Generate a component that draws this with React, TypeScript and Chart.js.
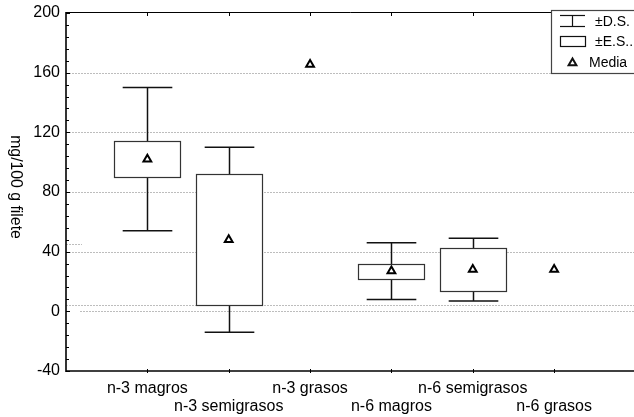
import React, { useEffect, useRef } from "react";
import { Chart, registerables } from "chart.js";

Chart.register(...registerables);

// ---- data ----
const categories = [
  "n-3 magros",
  "n-3 semigrasos",
  "n-3 grasos",
  "n-6 magros",
  "n-6 semigrasos",
  "n-6 grasos",
];
const means = [102, 48, 165.5, 27, 28, 28];
const seHalf: (number | null)[] = [12, 44, null, 5, 14.5, null];
const sdHalf: (number | null)[] = [48, 62, null, 19, 21, null];
const yTicks = [-40, 0, 40, 80, 120, 160, 200];
const extraDottedValues = [4.5];
const extraShortDottedValues = [45];
const legendLabels = ["±D.S.", "±E.S..", "Media"];
const yTitle = "mg/100 g filete";

const FONT = '"Liberation Sans", Arial, sans-serif';

function hline(ctx: CanvasRenderingContext2D, x1: number, x2: number, y: number) {
  ctx.beginPath();
  ctx.moveTo(x1, y);
  ctx.lineTo(x2, y);
  ctx.stroke();
}
function vline(ctx: CanvasRenderingContext2D, x: number, y1: number, y2: number) {
  ctx.beginPath();
  ctx.moveTo(x, y1);
  ctx.lineTo(x, y2);
  ctx.stroke();
}

const boxPlugin = {
  id: "boxWhisker",
  beforeDatasetsDraw(chart: any) {
    const { ctx, chartArea: a, scales } = chart;
    const x = scales.x;
    const y = scales.y;
    const step = x.getPixelForValue(2) - x.getPixelForValue(1);
    ctx.save();
    // dotted grid
    ctx.strokeStyle = "#bdbdbd";
    ctx.lineWidth = 1;
    ctx.setLineDash([2, 1]);
    yTicks.forEach((v) => {
      if (v <= y.min || v >= y.max) return;
      const py = Math.round(y.getPixelForValue(v)) + 0.5;
      hline(ctx, v === 0 ? a.left + 14 : a.left, a.right, py);
    });
    extraDottedValues.forEach((v) => {
      const py = Math.round(y.getPixelForValue(v)) + 0.5;
      hline(ctx, a.left, a.right, py);
    });
    extraShortDottedValues.forEach((v) => {
      const py = Math.round(y.getPixelForValue(v)) + 0.5;
      hline(ctx, a.left, a.left + 16, py);
    });
    ctx.setLineDash([]);

    categories.forEach((_, i) => {
      const m = means[i];
      const cx = Math.round(x.getPixelForValue(i + 1)) + 0.5;
      const sd = sdHalf[i];
      const se = seHalf[i];
      if (sd != null) {
        ctx.strokeStyle = "#111";
        ctx.lineWidth = 1.5;
        const top = y.getPixelForValue(m + sd);
        const bot = y.getPixelForValue(m - sd);
        vline(ctx, cx, top, bot);
        const hw = step * 0.305;
        hline(ctx, cx - hw, cx + hw, top);
        hline(ctx, cx - hw, cx + hw, bot);
      }
      if (se != null) {
        const top = Math.round(y.getPixelForValue(m + se)) + 0.5;
        const bot = Math.round(y.getPixelForValue(m - se)) + 0.5;
        const hw = Math.round(step * 0.4);
        ctx.fillStyle = "#ffffff";
        ctx.fillRect(cx - hw, top, hw * 2, bot - top);
        ctx.strokeStyle = "#333";
        ctx.lineWidth = 1.2;
        ctx.strokeRect(cx - hw, top, hw * 2, bot - top);
      }
    });
    ctx.restore();
  },
  afterDraw(chart: any) {
    const { ctx, chartArea: a, scales } = chart;
    const x = scales.x;
    const y = scales.y;
    ctx.save();
    ctx.strokeStyle = "#000";
    // frame
    ctx.lineWidth = 1;
    hline(ctx, a.left, a.right, a.top - 0.5);
    ctx.lineWidth = 1.6;
    vline(ctx, a.left, a.top - 1, a.bottom + 1);
    hline(ctx, a.left, a.right, a.bottom);
    vline(ctx, a.right, a.top, a.bottom);
    // y ticks (major + minor, inside)
    ctx.lineWidth = 1;
    for (let v = y.min; v <= y.max + 0.001; v += 8) {
      const py = Math.round(y.getPixelForValue(v)) + 0.5;
      const major = Math.abs(v % 40) < 0.001;
      hline(ctx, a.left, a.left + (major ? 4 : 3), py);
    }
    // x ticks top and bottom
    categories.forEach((_, i) => {
      const px = Math.round(x.getPixelForValue(i + 1)) + 0.5;
      vline(ctx, px, a.top, a.top + 3);
      vline(ctx, px, a.bottom - 2, a.bottom + 2);
    });
    // y title, rotated to read top-to-bottom
    ctx.save();
    ctx.translate(15, (a.top + a.bottom) / 2 - 5);
    ctx.rotate(Math.PI / 2);
    ctx.font = `15.8px ${FONT}`;
    ctx.fillStyle = "#000";
    ctx.textAlign = "center";
    ctx.textBaseline = "middle";
    ctx.fillText(yTitle, 0, 0);
    ctx.restore();

    // legend
    const lx = 551.5;
    const ly = 10.5;
    ctx.fillStyle = "#fff";
    ctx.fillRect(lx, ly, 100, 63);
    ctx.strokeStyle = "#444";
    ctx.lineWidth = 1.2;
    ctx.strokeRect(lx, ly, 100, 63);
    ctx.strokeStyle = "#111";
    ctx.lineWidth = 1.2;
    // whisker icon
    hline(ctx, 560, 585, 15.5);
    hline(ctx, 560, 585, 26.5);
    vline(ctx, 572.5, 15.5, 26.5);
    // box icon
    ctx.strokeRect(560.5, 36.5, 25, 10);
    // triangle icon
    ctx.lineWidth = 2;
    ctx.beginPath();
    const tr = 4.5;
    const tcx = 572.5;
    const tcy = 63;
    for (let k = 0; k < 3; k++) {
      const ang = (k * 2 * Math.PI) / 3;
      const px = tcx + Math.sin(ang) * tr;
      const py = tcy - Math.cos(ang) * tr;
      if (k === 0) ctx.moveTo(px, py);
      else ctx.lineTo(px, py);
    }
    ctx.closePath();
    ctx.stroke();
    ctx.fillStyle = "#000";
    ctx.font = `14px ${FONT}`;
    ctx.textAlign = "left";
    ctx.textBaseline = "middle";
    ctx.fillText(legendLabels[0], 595, 22);
    ctx.fillText(legendLabels[1], 595, 42);
    ctx.fillText(legendLabels[2], 589, 63);
    ctx.restore();
  },
};

export default function App() {
  const ref = useRef<HTMLCanvasElement | null>(null);
  useEffect(() => {
    if (!ref.current) return;
    const chart = new Chart(ref.current, {
      type: "scatter",
      data: {
        datasets: [
          {
            label: "Media",
            data: means.map((m, i) => ({ x: i + 1, y: m })),
            pointStyle: "triangle",
            pointRadius: 4.5,
            pointBorderWidth: 2,
            borderColor: "#000",
            backgroundColor: "#fff",
            showLine: false,
          },
        ],
      },
      options: {
        animation: false,
        responsive: false,
        devicePixelRatio: 1,
        events: [],
        layout: { padding: { left: 0, top: 13, right: 3, bottom: 0 } },
        plugins: {
          legend: { display: false },
          tooltip: { enabled: false },
        },
        scales: {
          x: {
            type: "linear",
            min: 0,
            max: categories.length + 1,
            grid: { display: false, drawTicks: false },
            border: { display: false },
            afterFit: (s: any) => {
              s.height = 46;
              s.paddingLeft = 0;
              s.paddingRight = 0;
            },
            afterBuildTicks: (s: any) => {
              s.ticks = Array.from({ length: categories.length + 2 }, (_, i) => ({ value: i }));
            },
            ticks: {
              autoSkip: false,
              maxRotation: 0,
              minRotation: 0,
              padding: 9,
              color: "#000",
              font: { family: FONT, size: 16, lineHeight: 1.1 },
              callback: (v: any) => {
                const i = Number(v) - 1;
                if (i < 0 || i >= categories.length) return "";
                return i % 2 === 0 ? [categories[i], ""] : ["", categories[i]];
              },
            },
          },
          y: {
            min: yTicks[0],
            max: yTicks[yTicks.length - 1],
            grid: { display: false, drawTicks: false },
            border: { display: false },
            afterFit: (s: any) => {
              s.width = 66;
              s.paddingTop = 0;
              s.paddingBottom = 0;
            },
            afterBuildTicks: (s: any) => {
              s.ticks = yTicks.map((v) => ({ value: v }));
            },
            ticks: {
              padding: 6,
              color: "#000",
              font: { family: FONT, size: 16 },
            },
          },
        },
      },
      plugins: [boxPlugin],
    } as any);
    return () => chart.destroy();
  }, []);
  return (
    <div
      style={{
        position: "absolute",
        left: 0,
        top: 0,
        width: 634,
        height: 417,
        overflow: "hidden",
        background: "#fff",
      }}
    >
      <canvas ref={ref} width={642} height={417} style={{ width: 642, height: 417, display: "block" }} />
    </div>
  );
}
